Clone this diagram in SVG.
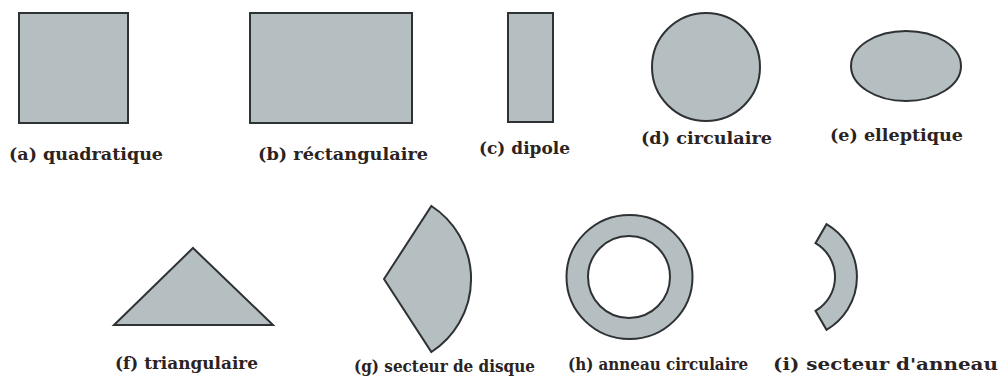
<svg xmlns="http://www.w3.org/2000/svg" width="1000" height="380" viewBox="0 0 1000 380">
<style>
.s{fill:#b5bec1;stroke:#2e3234;stroke-width:2;stroke-linejoin:miter}
.t{font-family:"DejaVu Serif","Liberation Serif",serif;font-weight:bold;font-size:17px;fill:#2b2322}
</style>
<rect width="1000" height="380" fill="#ffffff"/>
<g id="a"><rect class="s" x="19" y="13" width="109" height="110"/><text class="t" x="9" y="160" textLength="154" lengthAdjust="spacingAndGlyphs">(a) quadratique</text></g>
<g id="b"><rect class="s" x="250" y="13" width="162" height="110"/><text class="t" x="258" y="160" textLength="170" lengthAdjust="spacingAndGlyphs">(b) réctangulaire</text></g>
<g id="c"><rect class="s" x="508" y="13" width="45" height="109"/><text class="t" x="479" y="154" textLength="91" lengthAdjust="spacingAndGlyphs">(c) dipole</text></g>
<g id="d"><circle class="s" cx="706" cy="67" r="54"/><text class="t" x="641" y="144" textLength="131" lengthAdjust="spacingAndGlyphs">(d) circulaire</text></g>
<g id="e"><ellipse class="s" cx="906" cy="66" rx="55" ry="35"/><text class="t" x="830" y="141" textLength="133" lengthAdjust="spacingAndGlyphs">(e) elleptique</text></g>
<g id="f"><polygon class="s" points="193,248 273,325 114,325"/><text class="t" x="115" y="369" textLength="143" lengthAdjust="spacingAndGlyphs">(f) triangulaire</text></g>
<g id="g"><path class="s" d="M384,279 L431.4,206 A87,87 0 0 1 431.4,352 Z"/><text class="t" x="354" y="372" textLength="181" lengthAdjust="spacingAndGlyphs">(g) secteur de disque</text></g>
<g id="h"><path class="s" fill-rule="evenodd" d="M692.5,277 A63,62 0 1 1 566.5,277 A63,62 0 1 1 692.5,277 Z M670,277 A41,41 0 1 0 588,277 A41,41 0 1 0 670,277 Z"/><text class="t" x="568" y="370" textLength="180" lengthAdjust="spacingAndGlyphs">(h) anneau circulaire</text></g>
<g id="i"><path class="s" d="M826.5,224.2 A61,61 0 0 1 826.5,329.8 L815.5,310.8 A39,39 0 0 0 815.5,243.2 Z"/><text class="t" x="773" y="370" textLength="225" lengthAdjust="spacingAndGlyphs">(i) secteur d'anneau</text></g>
<g id="connectors"></g>
</svg>
